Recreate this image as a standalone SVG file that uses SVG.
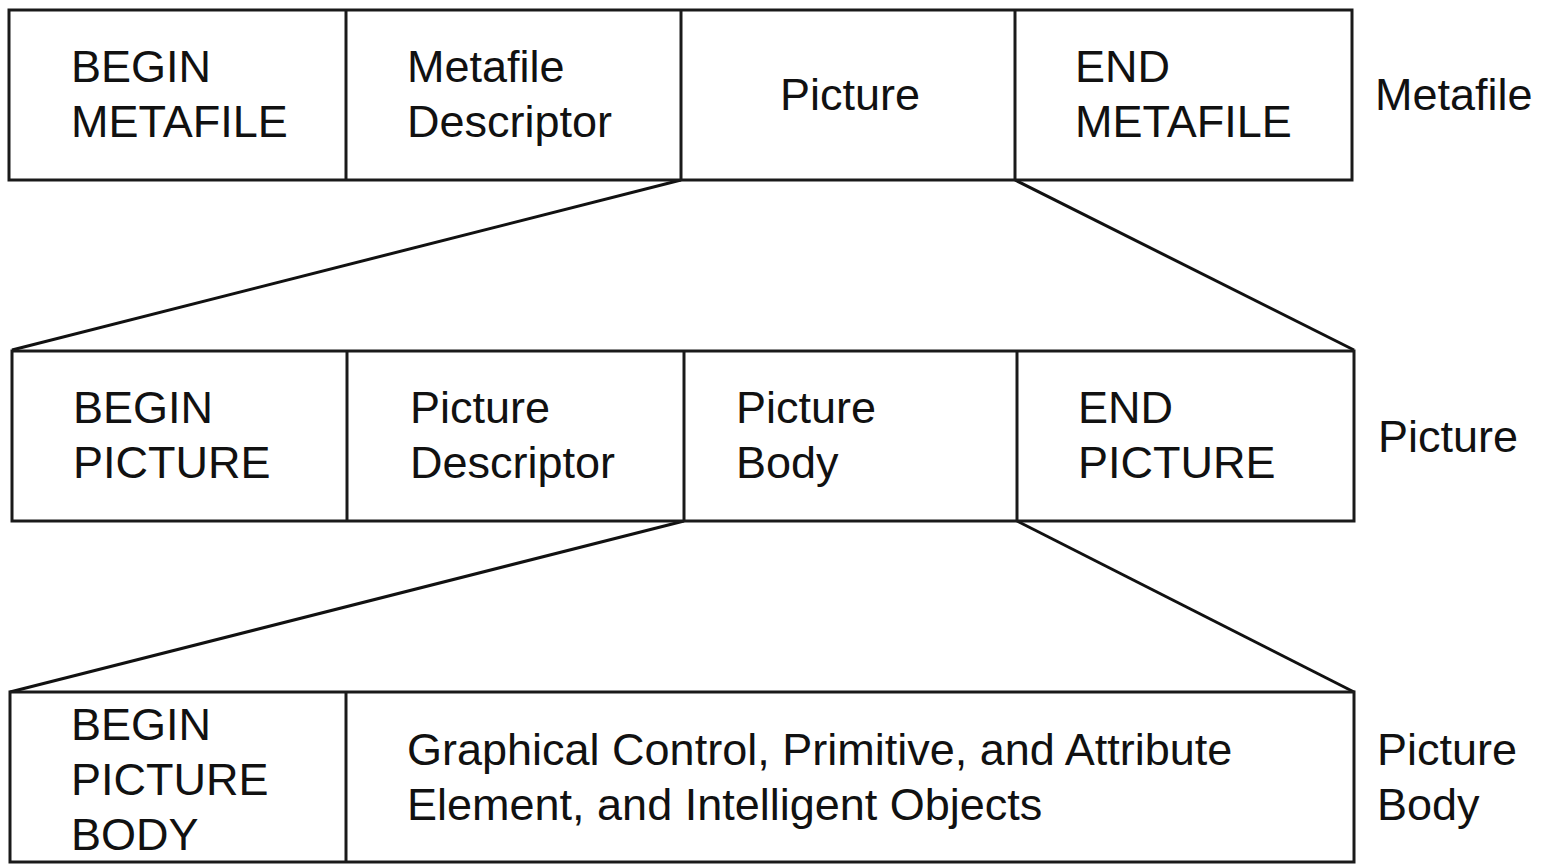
<svg xmlns="http://www.w3.org/2000/svg" width="1553" height="865" viewBox="0 0 1553 865">
<style>
.box{fill:#fff;stroke:#1a1a1a;stroke-width:3}
.div{stroke:#1a1a1a;stroke-width:3}
.con{stroke:#111;stroke-width:3;fill:none}
text{font-family:"Liberation Sans",Arial,sans-serif;font-size:45px;fill:#111}
</style>
<rect width="1553" height="865" fill="#fff"/>
<g id="connectors">
<line class="con" x1="681" y1="180" x2="12" y2="350"/>
<line class="con" x1="1015" y1="180" x2="1354" y2="350"/>
<line class="con" x1="684" y1="521" x2="10" y2="692"/>
<line class="con" x1="1017" y1="521" x2="1354" y2="692"/>
</g>
<g id="metafile-row">
<rect class="box" x="9" y="10" width="1343" height="170"/>
<line class="div" x1="346" y1="10" x2="346" y2="180"/>
<line class="div" x1="681" y1="10" x2="681" y2="180"/>
<line class="div" x1="1015" y1="10" x2="1015" y2="180"/>
<g id="begin-metafile"><text x="71" y="82">BEGIN</text><text x="71" y="137">METAFILE</text></g>
<g id="metafile-descriptor"><text x="407" y="82">Metafile</text><text x="407" y="137">Descriptor</text></g>
<g id="picture"><text x="780" y="110">Picture</text></g>
<g id="end-metafile"><text x="1075" y="82">END</text><text x="1075" y="137">METAFILE</text></g>
<g id="label-metafile"><text x="1375" y="110">Metafile</text></g>
</g>
<g id="picture-row">
<rect class="box" x="12" y="351" width="1342" height="170"/>
<line class="div" x1="347" y1="351" x2="347" y2="521"/>
<line class="div" x1="684" y1="351" x2="684" y2="521"/>
<line class="div" x1="1017" y1="351" x2="1017" y2="521"/>
<g id="begin-picture"><text x="73" y="423">BEGIN</text><text x="73" y="478">PICTURE</text></g>
<g id="picture-descriptor"><text x="410" y="423">Picture</text><text x="410" y="478">Descriptor</text></g>
<g id="picture-body"><text x="736" y="423">Picture</text><text x="736" y="478">Body</text></g>
<g id="end-picture"><text x="1078" y="423">END</text><text x="1078" y="478">PICTURE</text></g>
<g id="label-picture"><text x="1378" y="452">Picture</text></g>
</g>
<g id="picture-body-row">
<rect class="box" x="10" y="692" width="1344" height="170"/>
<line class="div" x1="346" y1="692" x2="346" y2="862"/>
<g id="begin-picture-body"><text x="71" y="740">BEGIN</text><text x="71" y="795">PICTURE</text><text x="71" y="850">BODY</text></g>
<g id="elements"><text x="407" y="765">Graphical Control, Primitive, and Attribute</text><text x="407" y="820">Element, and Intelligent Objects</text></g>
<g id="label-picture-body"><text x="1377" y="765">Picture</text><text x="1377" y="820">Body</text></g>
</g>
</svg>
